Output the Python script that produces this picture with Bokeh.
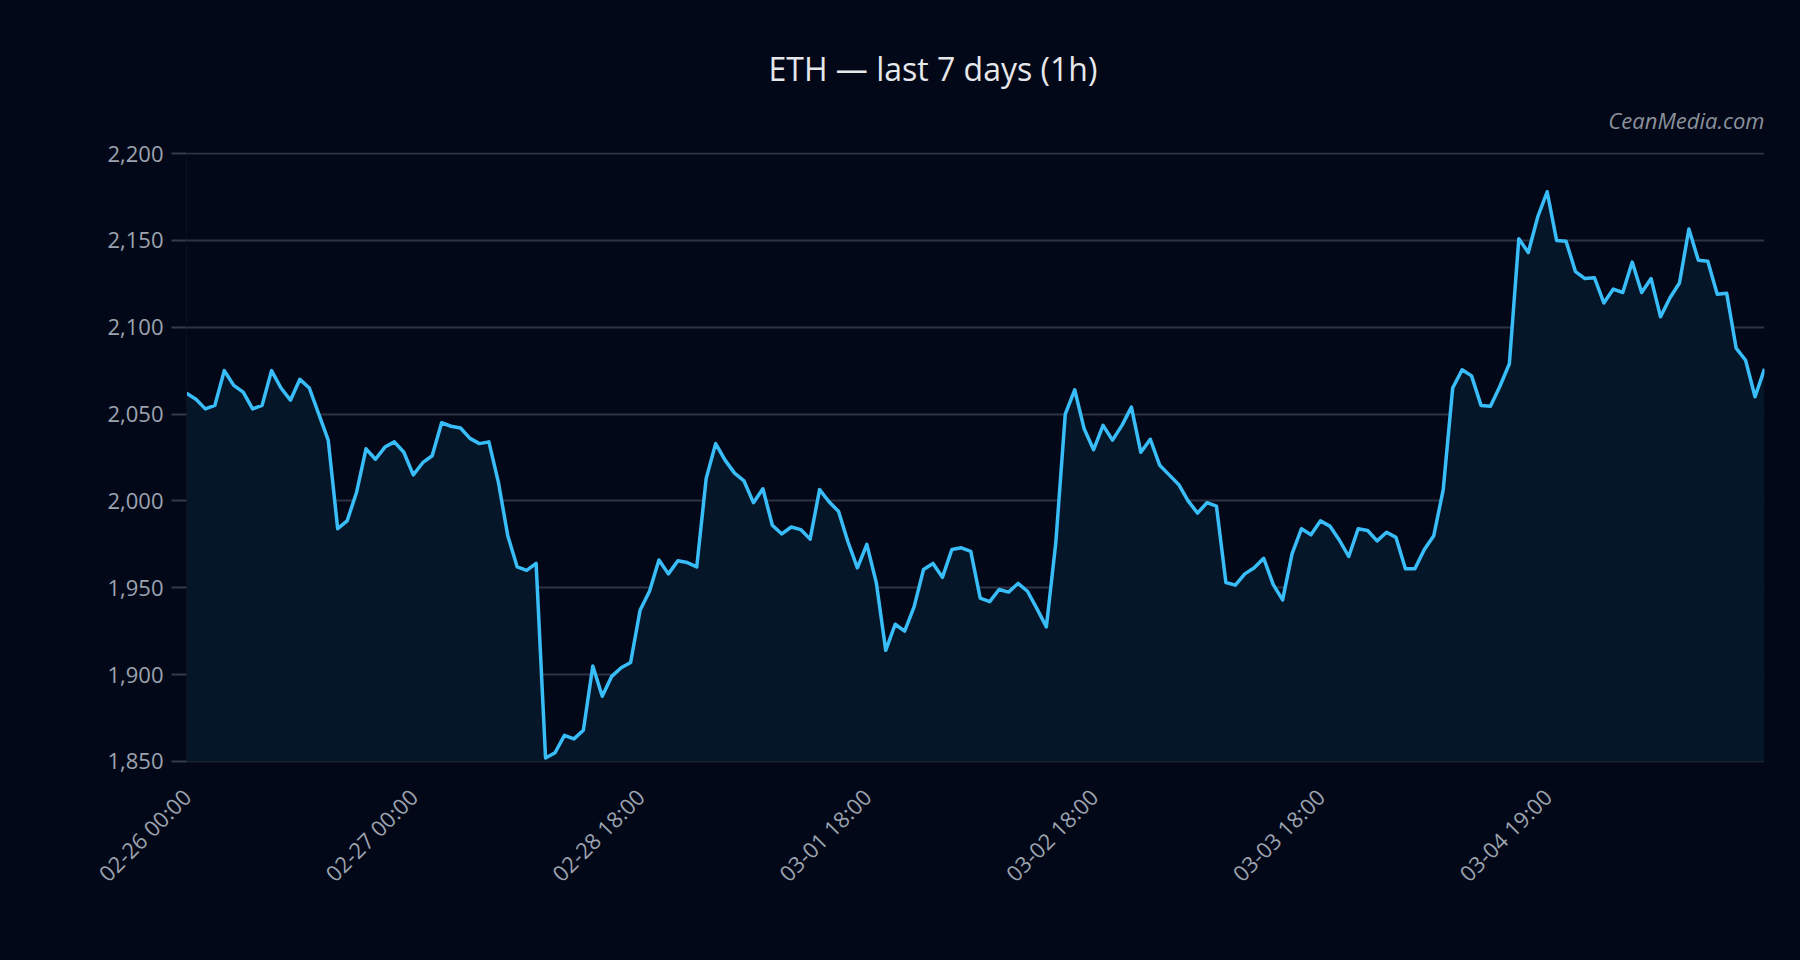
import math
from bokeh.plotting import figure
from bokeh.models import Title, FixedTicker, NumeralTickFormatter, Range1d
from bokeh.embed import file_html
from bokeh.resources import INLINE

# ETH hourly closes (one value per hour)
prices = [
    2062, 2058.5, 2053, 2055, 2075, 2066.5, 2062.6, 2053, 2055, 2075,
    2065, 2058, 2070, 2065, 2050, 2035, 1984, 1988.5, 2005, 2030,
    2024, 2031, 2034, 2028, 2015, 2022, 2026, 2045, 2043, 2042,
    2036, 2033, 2034, 2011, 1980, 1962, 1960, 1964, 1852, 1855,
    1865, 1863, 1868, 1905, 1887.5, 1899, 1904, 1907, 1937, 1948,
    1966, 1958, 1965.5, 1964.5, 1962, 2013, 2033, 2023.5, 2016, 2011.5,
    1999, 2007, 1986, 1981, 1985, 1983.5, 1978, 2006.5, 1999.5, 1994,
    1976.5, 1961.5, 1975, 1953, 1914, 1929, 1925, 1939, 1960.5, 1964,
    1956, 1972, 1973, 1971, 1944, 1942, 1949, 1947.5, 1952.5, 1948,
    1938, 1927.5, 1976, 2050, 2064, 2041.5, 2029.5, 2043.5, 2035, 2043.5,
    2054, 2028, 2035.5, 2020.5, 2015, 2009.5, 2000, 1993, 1999, 1997,
    1953, 1951.5, 1958, 1961.5, 1967, 1952, 1943, 1969.5, 1984, 1980.5,
    1988.5, 1985.5, 1977.5, 1968, 1984, 1983, 1977, 1982, 1979, 1961,
    1961, 1972, 1980, 2006.5, 2065, 2075.5, 2072, 2055, 2054.5, 2066,
    2079, 2151, 2143, 2163.5, 2178, 2150, 2149.5, 2132, 2128, 2128.5,
    2114, 2122, 2120, 2137.5, 2120, 2128, 2106, 2117, 2125.5, 2156.5,
    2138.5, 2138, 2119, 2119.5, 2088, 2081, 2060, 2076,
]
hours = list(range(len(prices)))

tick_pos = [0, 24, 48, 72, 96, 120, 144]
tick_labels = ["02-26 00:00", "02-27 00:00", "02-28 18:00", "03-01 18:00",
               "03-02 18:00", "03-03 18:00", "03-04 19:00"]
y_ticks = [1850, 1900, 1950, 2000, 2050, 2100, 2150, 2200]

BG = "#020817"
FONT = "Open Sans"

p = figure(width=1784, height=944, output_backend="svg", toolbar_location=None,
           x_range=Range1d(0, len(prices) - 1), y_range=Range1d(1849.4, 2200.6),
           min_border_left=178, min_border_right=28, min_border_top=144,
           min_border_bottom=190)
p.background_fill_color = BG
p.border_fill_color = BG
p.outline_line_color = None

p.varea(x=hours, y1=1850, y2=prices, fill_color="#061629")
p.line(hours, prices, line_color="#38bdf8", line_width=3.5, line_join="round")

# axes
p.xaxis.ticker = FixedTicker(ticks=tick_pos)
p.xaxis.major_label_overrides = dict(zip(tick_pos, tick_labels))
p.xaxis.major_label_orientation = math.pi / 4
p.xaxis.axis_line_color = None
p.xaxis.major_tick_line_color = None
p.xaxis.minor_tick_line_color = None
p.xaxis.major_label_standoff = 24

p.yaxis.ticker = FixedTicker(ticks=y_ticks)
p.yaxis.formatter = NumeralTickFormatter(format="0,0")
p.yaxis.axis_line_color = "#0a1020"
p.yaxis.major_tick_line_color = "#343b4a"
p.yaxis.major_tick_line_width = 2
p.yaxis.major_tick_out = 15
p.yaxis.major_tick_in = 0
p.yaxis.minor_tick_line_color = None
p.yaxis.major_label_standoff = 8

for ax in (p.xaxis, p.yaxis):
    ax.major_label_text_font = FONT
    ax.major_label_text_font_size = "22px"
    ax.major_label_text_color = "#9ca3af"

p.xgrid.grid_line_color = None
p.ygrid.grid_line_color = "#2c3342"
p.ygrid.grid_line_width = 2

# watermark first (closest to frame), then main title
p.add_layout(Title(text="CeanMedia.com", align="right", text_font=FONT,
                   text_font_style="italic", text_font_size="22px",
                   text_line_height=0.9,
                   text_color="#8b919c", standoff=36), "above")
p.add_layout(Title(text="ETH \u2014 last 7 days (1h)", align="left", text_font=FONT,
                   text_font_style="normal", text_font_size="32px",
                   text_color="#e5e7eb", offset=582, standoff=-10), "above")

html = file_html(p, INLINE, title="ETH")
html = html.replace("<body>", '<body style="margin:8px;background-color:%s;">' % BG)
open("out.html", "w").write(html)
